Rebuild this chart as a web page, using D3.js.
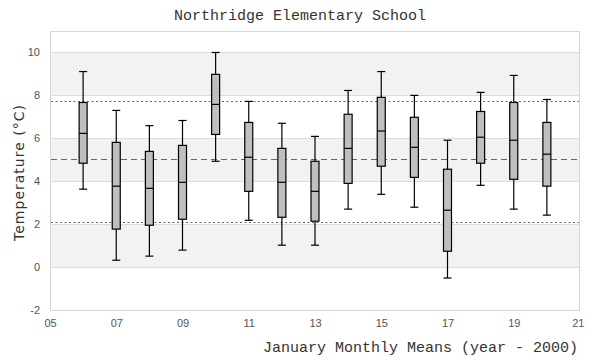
<!DOCTYPE html>
<html>
<head>
<meta charset="utf-8">
<script src="https://cdn.jsdelivr.net/npm/d3@7"></script>
<style>
  html, body { margin: 0; padding: 0; background: #fff; }
  svg { display: block; }
</style>
</head>
<body>
<svg id="chart" width="600" height="360"></svg>
<script>
// ---- data ----
const years      = [6, 7, 8, 9, 10, 11, 12, 13, 14, 15, 16, 17, 18, 19, 20];
const whiskerHi  = [9.11, 7.30, 6.59, 6.83, 10.0, 7.72, 6.70, 6.09, 8.23, 9.11, 8.00, 5.91, 8.14, 8.93, 7.81];
const q3         = [7.67, 5.81, 5.39, 5.67, 8.98, 6.74, 5.53, 4.93, 7.12, 7.91, 6.98, 4.56, 7.25, 7.67, 6.74];
const medians    = [6.23, 3.77, 3.67, 3.95, 7.58, 5.12, 3.95, 3.53, 5.53, 6.34, 5.58, 2.65, 6.05, 5.91, 5.26];
const q1         = [4.84, 1.77, 1.95, 2.23, 6.18, 3.53, 2.32, 2.14, 3.90, 4.70, 4.18, 0.74, 4.84, 4.09, 3.77];
const whiskerLo  = [3.63, 0.32, 0.51, 0.79, 4.93, 2.18, 1.02, 1.02, 2.70, 3.39, 2.79, -0.51, 3.81, 2.70, 2.42];
const meanLine   = [5.02];
const sigmaLines = [7.72, 2.09];
const xTicks     = [5, 7, 9, 11, 13, 15, 17, 19, 21];
const yTicks     = [-2, 0, 2, 4, 6, 8, 10];
const bands      = [[0, 2], [4, 6], [8, 10]];
const title      = "Northridge Elementary School";
const xTitle     = "January Monthly Means (year - 2000)";
const yTitle     = "Temperature (°C)";

// ---- layout ----
const svg = d3.select("#chart");
const L = 50, R = 580, T = 31, B = 310;
const x = d3.scaleLinear().domain([5, 21]).range([L, R]);
const y = d3.scaleLinear().domain([-2, 11]).range([B, T]);
const boxW = 8;

// bands
svg.append("g").selectAll("rect").data(bands).join("rect")
  .attr("x", L).attr("width", R - L)
  .attr("y", d => y(d[1])).attr("height", d => y(d[0]) - y(d[1]))
  .attr("fill", "#f2f2f2");

// gridlines
svg.append("g").selectAll("line").data(yTicks.filter(v => v > -2)).join("line")
  .attr("x1", L).attr("x2", R)
  .attr("y1", d => Math.round(y(d)) + 0.5).attr("y2", d => Math.round(y(d)) + 0.5)
  .attr("stroke", "#dcdcdc").attr("stroke-width", 1);

// frame
svg.append("rect")
  .attr("x", L + 0.5).attr("y", T + 0.5)
  .attr("width", R - L - 1).attr("height", B - T)
  .attr("fill", "none").attr("stroke", "#d6d6d6").attr("stroke-width", 1);

// reference lines
svg.append("g").selectAll("line").data(sigmaLines).join("line")
  .attr("x1", L + 1).attr("x2", R - 1)
  .attr("y1", d => Math.round(y(d)) + 0.5).attr("y2", d => Math.round(y(d)) + 0.5)
  .attr("stroke", "#666").attr("stroke-width", 1.2).attr("stroke-dasharray", "2,2.5");
svg.append("g").selectAll("line").data(meanLine).join("line")
  .attr("x1", L + 1).attr("x2", R - 1)
  .attr("y1", d => Math.round(y(d)) + 0.5).attr("y2", d => Math.round(y(d)) + 0.5)
  .attr("stroke", "#666").attr("stroke-width", 1.2).attr("stroke-dasharray", "6,4");

// boxes
const data = years.map((yr, i) => ({ yr, hi: whiskerHi[i], q3: q3[i], med: medians[i], q1: q1[i], lo: whiskerLo[i] }));
const g = svg.append("g").selectAll("g").data(data).join("g");
g.append("line").attr("class", "stem")
  .attr("x1", d => x(d.yr)).attr("x2", d => x(d.yr))
  .attr("y1", d => y(d.hi)).attr("y2", d => y(d.lo))
  .attr("stroke", "#000").attr("stroke-width", 1.2);
g.append("line")
  .attr("x1", d => x(d.yr) - boxW / 2).attr("x2", d => x(d.yr) + boxW / 2)
  .attr("y1", d => y(d.hi)).attr("y2", d => y(d.hi))
  .attr("stroke", "#000").attr("stroke-width", 1.2);
g.append("line")
  .attr("x1", d => x(d.yr) - boxW / 2).attr("x2", d => x(d.yr) + boxW / 2)
  .attr("y1", d => y(d.lo)).attr("y2", d => y(d.lo))
  .attr("stroke", "#000").attr("stroke-width", 1.2);
g.append("rect")
  .attr("x", d => x(d.yr) - boxW / 2).attr("width", boxW)
  .attr("y", d => y(d.q3)).attr("height", d => y(d.q1) - y(d.q3))
  .attr("fill", "#bfbfbf").attr("stroke", "#000").attr("stroke-width", 1.2);
g.append("line")
  .attr("x1", d => x(d.yr) - boxW / 2).attr("x2", d => x(d.yr) + boxW / 2)
  .attr("y1", d => y(d.med)).attr("y2", d => y(d.med))
  .attr("stroke", "#000").attr("stroke-width", 1.2);

// axes
const fmt = d => (d < 10 ? "0" : "") + d;
const xAxis = svg.append("g").attr("transform", `translate(0,${B})`)
  .call(d3.axisBottom(x).tickValues(xTicks).tickFormat(fmt).tickSize(0).tickPadding(9));
xAxis.select(".domain").remove();
xAxis.selectAll("text")
  .attr("font-family", "'Liberation Sans', Arial, sans-serif").attr("font-size", 11).attr("fill", "#555")
  .filter(d => d === 21).attr("text-anchor", "end").attr("dx", 4);

const yAxis = svg.append("g").attr("transform", `translate(${L},0)`)
  .call(d3.axisLeft(y).tickValues(yTicks).tickFormat(d => String(d)).tickSize(0).tickPadding(10));
yAxis.select(".domain").remove();
yAxis.selectAll("text")
  .attr("font-family", "'Liberation Sans', Arial, sans-serif").attr("font-size", 11).attr("fill", "#555");

// titles
svg.append("text").text(title)
  .attr("x", 300).attr("y", 20).attr("text-anchor", "middle")
  .attr("font-family", "'Liberation Mono', 'DejaVu Sans Mono', monospace").attr("font-size", 15).attr("fill", "#333");
svg.append("text").text(xTitle)
  .attr("x", 578).attr("y", 352).attr("text-anchor", "end")
  .attr("font-family", "'Liberation Mono', 'DejaVu Sans Mono', monospace").attr("font-size", 15).attr("fill", "#333");
svg.append("text").text(yTitle)
  .attr("transform", `translate(24,${(T + B) / 2 + 2}) rotate(-90)`)
  .attr("text-anchor", "middle")
  .attr("font-family", "'DejaVu Sans', sans-serif").attr("font-size", 14)
  .attr("letter-spacing", 1).attr("fill", "#333");
</script>
</body>
</html>
